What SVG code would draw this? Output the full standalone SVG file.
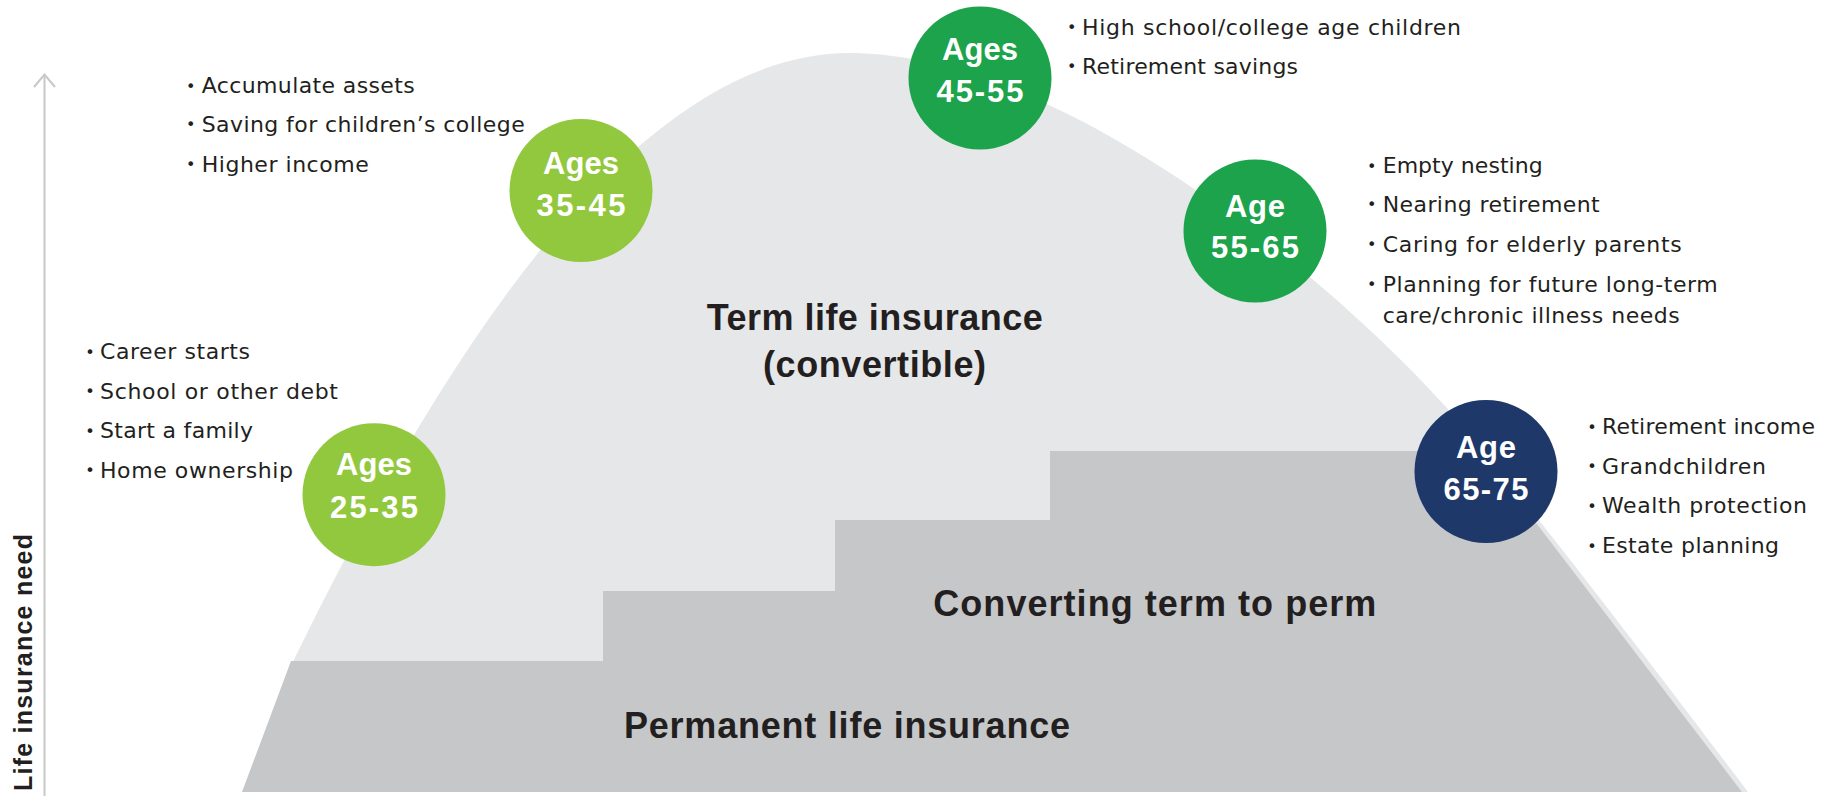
<svg xmlns="http://www.w3.org/2000/svg" width="1830" height="796" viewBox="0 0 1830 796">
<style>
.bg{fill:#ffffff}
.light{fill:#e6e7e8}
.dark{fill:#c6c7c9}
.axis{fill:none;stroke:#c8c8c8;stroke-width:2}
.axlbl{font-family:"Liberation Sans",Arial,sans-serif;font-weight:bold;font-size:25px;fill:#231f20}
.item{font-family:"DejaVu Sans",sans-serif;font-size:22px;fill:#231f20}
.dot{font-family:"DejaVu Sans",sans-serif;font-size:16px;fill:#231f20;text-anchor:middle}
.age{font-family:"Liberation Sans",Arial,sans-serif;font-weight:bold;font-size:31px;fill:#ffffff;text-anchor:middle}
.title{font-family:"Liberation Sans",Arial,sans-serif;font-weight:bold;font-size:36px;fill:#231f20}
.lg{fill:#92c83e}
.dg{fill:#1ca34b}
.nv{fill:#1e386a}
</style>
<rect class="bg" x="0" y="0" width="1830" height="796"/>

<g id="bands">
  <path id="term-band" class="light" d="M 290,668 C 420,400 620,53 850,53 C 1050,53 1313,260 1447,408 C 1500.6,467 1676.8,697.2 1748,792 L 280,792 Z"/>
  <path id="perm-band" class="dark" d="M 242,792 L 291,661 L 603,661 L 603,591 L 835,591 L 835,520 L 1050,520 L 1050,451 L 1481,451 L 1742,792 Z"/>
  <text class="title" x="706.7" y="330" textLength="336" lengthAdjust="spacing">Term life insurance</text>
  <text class="title" x="763" y="377" textLength="223" lengthAdjust="spacing">(convertible)</text>
  <text class="title" x="933.3" y="616" font-size="37" textLength="443" lengthAdjust="spacing">Converting term to perm</text>
  <text class="title" x="624" y="737.7" textLength="446" lengthAdjust="spacing">Permanent life insurance</text>
</g>

<g id="axis">
  <line class="axis" x1="44.5" y1="75" x2="44.5" y2="796"/>
  <polyline class="axis" points="34,87 44.5,74.5 55,87"/>
  <text class="axlbl" transform="translate(31.5,791) rotate(-90)" x="0" y="0" textLength="257" lengthAdjust="spacing">Life insurance need</text>
</g>

<g id="connectors"></g>

<g id="node-25-35">
  <circle class="lg" cx="374" cy="494.7" r="71.5"/>
  <text class="age" x="374" y="475" textLength="76" lengthAdjust="spacing">Ages</text>
  <text class="age" x="374" y="518" textLength="88" lengthAdjust="spacing">25-35</text>
  <text class="dot" x="90" y="357.5">•</text>
  <text class="item" x="100" y="359.3" textLength="150" lengthAdjust="spacing">Career starts</text>
  <text class="dot" x="90" y="396.8">•</text>
  <text class="item" x="100" y="398.5" textLength="238" lengthAdjust="spacing">School or other debt</text>
  <text class="dot" x="90" y="436.5">•</text>
  <text class="item" x="100" y="438.2" textLength="153" lengthAdjust="spacing">Start a family</text>
  <text class="dot" x="90" y="475.8">•</text>
  <text class="item" x="100" y="477.5" textLength="193" lengthAdjust="spacing">Home ownership</text>
</g>

<g id="node-35-45">
  <circle class="lg" cx="581" cy="190.5" r="71.5"/>
  <text class="age" x="581" y="174" textLength="76" lengthAdjust="spacing">Ages</text>
  <text class="age" x="581" y="215.7" textLength="89" lengthAdjust="spacing">35-45</text>
  <text class="dot" x="190.7" y="91.6">•</text>
  <text class="item" x="201.7" y="93.3" textLength="213" lengthAdjust="spacing">Accumulate assets</text>
  <text class="dot" x="190.7" y="130">•</text>
  <text class="item" x="201.7" y="131.7" textLength="323" lengthAdjust="spacing">Saving for children’s college</text>
  <text class="dot" x="190.7" y="170">•</text>
  <text class="item" x="201.7" y="171.7" textLength="167" lengthAdjust="spacing">Higher income</text>
</g>

<g id="node-45-55">
  <circle class="dg" cx="980" cy="78" r="71.5"/>
  <text class="age" x="980" y="60" textLength="76" lengthAdjust="spacing">Ages</text>
  <text class="age" x="980" y="101.7" textLength="87" lengthAdjust="spacing">45-55</text>
  <text class="dot" x="1071.7" y="33.3">•</text>
  <text class="item" x="1082" y="35" textLength="379" lengthAdjust="spacing">High school/college age children</text>
  <text class="dot" x="1071.7" y="72.3">•</text>
  <text class="item" x="1082" y="74" textLength="216" lengthAdjust="spacing">Retirement savings</text>
</g>

<g id="node-55-65">
  <circle class="dg" cx="1255" cy="231" r="71.5"/>
  <text class="age" x="1255" y="216.7" textLength="60" lengthAdjust="spacing">Age</text>
  <text class="age" x="1255" y="258.3" textLength="88" lengthAdjust="spacing">55-65</text>
  <text class="dot" x="1371.7" y="171.6">•</text>
  <text class="item" x="1382.7" y="173.3" textLength="160" lengthAdjust="spacing">Empty nesting</text>
  <text class="dot" x="1371.7" y="210">•</text>
  <text class="item" x="1382.7" y="211.7" textLength="217" lengthAdjust="spacing">Nearing retirement</text>
  <text class="dot" x="1371.7" y="250">•</text>
  <text class="item" x="1382.7" y="251.7" textLength="299" lengthAdjust="spacing">Caring for elderly parents</text>
  <text class="dot" x="1371.7" y="290">•</text>
  <text class="item" x="1382.7" y="291.7" textLength="335" lengthAdjust="spacing">Planning for future long-term</text>
  <text class="item" x="1382.7" y="323.3" textLength="297" lengthAdjust="spacing">care/chronic illness needs</text>
</g>

<g id="node-65-75">
  <circle class="nv" cx="1486" cy="471.5" r="71.5"/>
  <text class="age" x="1486" y="458" textLength="60" lengthAdjust="spacing">Age</text>
  <text class="age" x="1486" y="500" textLength="85" lengthAdjust="spacing">65-75</text>
  <text class="dot" x="1592" y="432.6">•</text>
  <text class="item" x="1602" y="434.3" textLength="213" lengthAdjust="spacing">Retirement income</text>
  <text class="dot" x="1592" y="471.8">•</text>
  <text class="item" x="1602" y="473.5" textLength="164" lengthAdjust="spacing">Grandchildren</text>
  <text class="dot" x="1592" y="511.6">•</text>
  <text class="item" x="1602" y="513.3" textLength="205" lengthAdjust="spacing">Wealth protection</text>
  <text class="dot" x="1592" y="551.6">•</text>
  <text class="item" x="1602" y="553.3" textLength="177" lengthAdjust="spacing">Estate planning</text>
</g>
</svg>
